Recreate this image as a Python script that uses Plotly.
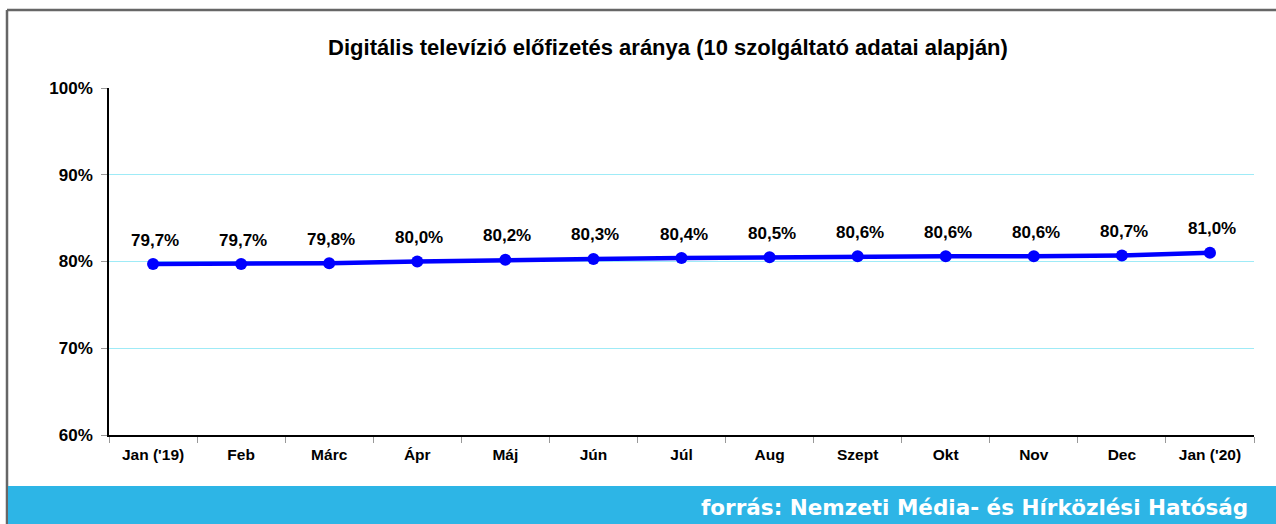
import plotly.graph_objects as go

months = ["Jan ('19)", "Feb", "Márc", "Ápr", "Máj", "Jún", "Júl", "Aug", "Szept", "Okt", "Nov", "Dec", "Jan ('20)"]
share = [79.7, 79.7, 79.8, 80.0, 80.2, 80.3, 80.4, 80.5, 80.6, 80.6, 80.6, 80.7, 81.0]
y_ticks = [60, 70, 80, 90, 100]

labels = [f"{v:.1f}".replace(".", ",") + "%" for v in share]

W, H = 1276, 524
L, R, T, B = 109, 1254, 88, 435
pw, ph = R - L, B - T

def px(x):
    return (x - L) / pw

def py(y):
    return (B - y) / ph

FONT = "Liberation Sans, Arial, sans-serif"

fig = go.Figure()
fig.add_trace(go.Scatter(
    x=months, y=share, mode="lines+markers",
    line=dict(color="#0000FF", width=4.5),
    marker=dict(color="#0000FF", size=12),
    cliponaxis=False, showlegend=False,
))

annotations = [
    dict(x=m, y=v, text=f"<b>{t}</b>", xref="x", yref="y", showarrow=False,
         yshift=24, xshift=2, font=dict(family=FONT, size=17, color="#000000"))
    for m, v, t in zip(months, share, labels)
]
annotations.append(
    dict(text="<b>forrás: Nemzeti Média- és Hírközlési Hatóság</b>", xref="paper", yref="paper",
         x=px(1250), y=py(507), xanchor="right", yanchor="middle", showarrow=False,
         font=dict(family="DejaVu Sans, Verdana, sans-serif", size=21.5, color="white"))
)

fig.update_layout(
    width=W, height=H,
    margin=dict(l=L, r=W - R, t=T, b=H - B),
    paper_bgcolor="white", plot_bgcolor="white",
    title=dict(text="<b>Digitális televízió előfizetés aránya (10 szolgáltató adatai alapján)</b>",
               x=668 / W, xanchor="center", y=1 - 47 / H, yanchor="middle",
               font=dict(family=FONT, size=22, color="#000000")),
    xaxis=dict(type="category", categoryorder="array", categoryarray=months,
               range=[-0.5, len(months) - 0.5], tickson="boundaries",
               ticks="outside", ticklen=6, tickcolor="#999999",
               showline=True, linecolor="#000000", linewidth=1.5,
               showgrid=False, ticklabelstandoff=5,
               tickfont=dict(family=FONT, size=15.5, color="#000000", weight="bold")),
    yaxis=dict(range=[60, 100], tickvals=y_ticks, ticktext=[f"{v}%" for v in y_ticks],
               ticks="outside", ticklen=6, tickcolor="#999999",
               showline=True, linecolor="#000000", linewidth=1.5,
               showgrid=True, gridcolor="#9FEBF7", gridwidth=1, zeroline=False,
               ticklabelstandoff=5,
               tickfont=dict(family=FONT, size=17, color="#000000", weight="bold")),
    shapes=[
        dict(type="line", xref="paper", yref="paper", x0=px(7), x1=px(W + 5), y0=py(10), y1=py(10),
             line=dict(color="#666666", width=2.5)),
        dict(type="line", xref="paper", yref="paper", x0=px(7), x1=px(7), y0=py(10), y1=py(H + 5),
             line=dict(color="#666666", width=2.5)),
        dict(type="rect", xref="paper", yref="paper", x0=px(8), x1=px(W + 5), y0=py(486), y1=py(H + 5),
             fillcolor="#2DB5E6", line=dict(width=0), layer="above"),
    ],
    annotations=annotations,
)

fig.write_html("out.html", config={"displayModeBar": False},
               post_script="document.body.style.margin='0';document.body.style.padding='0';")
